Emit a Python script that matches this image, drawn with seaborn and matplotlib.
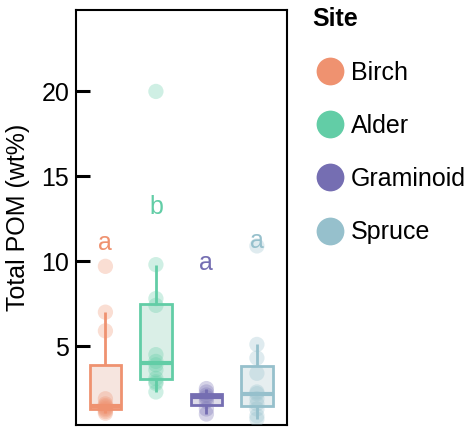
import numpy as np
import pandas as pd
import matplotlib
matplotlib.use('Agg')
import matplotlib.pyplot as plt
import seaborn as sns
from matplotlib.lines import Line2D

# --- data ---
sites = ['Birch', 'Alder', 'Graminoid', 'Spruce']
colors = ['#EF9270', '#62CDA6', '#756EB2', '#96C0CC']

birch = [1.05, 1.15, 1.25, 1.33, 1.42, 1.5, 1.6, 1.9, 5.9, 7.0, 9.7]
alder = [2.3, 2.8, 2.9, 3.1, 3.6, 3.9, 4.1, 4.5, 7.4, 7.8, 9.8, 20.0]
graminoid = [1.0, 1.3, 1.75, 1.98, 2.12, 2.3, 2.5]
spruce = [0.7, 0.9, 1.3, 1.6, 1.9, 2.2, 2.3, 3.4, 4.3, 5.1, 10.9]

letters = ['a', 'b', 'a', 'a']
letter_y = [11.1, 13.2, 9.9, 11.2]

values = [birch, alder, graminoid, spruce]
df = pd.DataFrame({
    'site': np.repeat(sites, [len(v) for v in values]),
    'pom': np.concatenate(values),
})

plt.rcParams['font.family'] = ['Liberation Sans', 'DejaVu Sans']

fig = plt.figure(figsize=(4.67, 4.32), dpi=100)
ax = fig.add_axes([0.163, 0.016, 0.452, 0.961])

# one box per site so the outline takes the site colour
for s, c in zip(sites, colors):
    sns.boxplot(data=df[df['site'] == s], x='site', y='pom', order=sites,
                color=c, linecolor=c, width=0.63, showfliers=False,
                showcaps=False, linewidth=2, ax=ax,
                medianprops={'linewidth': 3})
# light fill in each box
for p in ax.patches:
    fc = p.get_facecolor()
    p.set_facecolor((fc[0], fc[1], fc[2], 0.25))

pal = dict(zip(sites, colors))
sns.stripplot(data=df, x='site', y='pom', hue='site', palette=pal, order=sites,
              hue_order=sites, jitter=False, size=11, alpha=0.3, linewidth=0,
              legend=False, ax=ax, zorder=5)

for i, (lab, yy) in enumerate(zip(letters, letter_y)):
    ax.text(i, yy, lab, color=colors[i], fontsize=18, ha='center', va='center')

ax.set_xlim(-0.58, 3.6)
ax.set_ylim(0.35, 24.8)
ax.set_yticks([5, 10, 15, 20])
ax.set_xticks([])
ax.set_xlabel('')
ax.set_ylabel('Total POM (wt%)', fontsize=18, labelpad=8)
ax.tick_params(axis='y', direction='in', length=10, width=2.2, labelsize=18, pad=5)
for s in ax.spines.values():
    s.set_linewidth(1.5)
    s.set_color('black')

handles = [Line2D([], [], marker='o', linestyle='', markersize=20,
                  markerfacecolor=c, markeredgecolor='none') for c in colors]
leg = fig.legend(handles, sites, loc='upper left', bbox_to_anchor=(0.62, 1.035),
                 frameon=False, fontsize=18, title='Site',
                 title_fontproperties={'weight': 'bold', 'size': 18},
                 labelspacing=1.17, handletextpad=0.15, handlelength=1.4)
leg._legend_box.align = 'left'

fig.savefig('out.png', dpi=100)
